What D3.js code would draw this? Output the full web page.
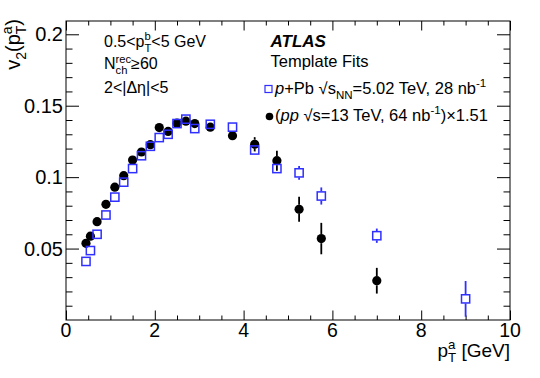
<!DOCTYPE html>
<html>
<meta charset="utf-8">
<script src="https://cdn.jsdelivr.net/npm/d3@7/dist/d3.min.js"></script>
<style>
body{ margin:0; background:white; }
svg text{ font-family: "Liberation Sans", Arial, Helvetica, sans-serif; white-space: pre; fill: black; }
.frame{ fill:none; stroke:black; stroke-width:1; }
.tick line{ stroke:black; }
</style>
<body>
<div id="chart"></div>
<script>
// bin centres in pT^a [GeV]
var ptA   = [0.45,0.55,0.7,0.9,1.1,1.3,1.5,1.7,1.9,2.1,2.3,2.5,2.7,2.9,3.25,3.75,4.25,4.75,5.25,5.75,7,9];
// p+Pb 5.02 TeV
var v2pPb  = [0.041,0.0486,0.060,0.0735,0.086,0.0965,0.106,0.115,0.1216,0.1277,0.130,0.1375,0.1406,0.134,0.137,0.135,0.119,0.106,0.103,0.0868,0.059,0.0148];
var errpPb = [0.001,0.001,0.001,0.001,0.001,0.001,0.001,0.001,0.001,0.001,0.001,0.001,0.001,0.001,0.001,0.0015,0.002,0.003,0.0048,0.006,0.005,0.0125];
// pp 13 TeV (scaled x1.51), no point in last bin
var v2pp   = [0.0537,0.0587,0.0688,0.081,0.093,0.101,0.112,0.1176,0.1227,0.1347,0.132,0.1378,0.1392,0.1375,0.135,0.129,0.123,0.1115,0.0775,0.057,0.0275];
var errpp  = [0.001,0.001,0.001,0.001,0.001,0.001,0.001,0.001,0.001,0.001,0.001,0.001,0.001,0.001,0.0015,0.002,0.005,0.007,0.0087,0.011,0.009];

var xTicks = [0,2,4,6,8,10];
var yTicks = [0.05,0.1,0.15,0.2];

var W = 540, H = 378;
var padL = 66, padR = 510, padT = 21, padB = 320;

var svg = d3.select("#chart").append("svg").attr("width",W).attr("height",H);

var x = d3.scaleLinear().domain([0,10]).range([padL,padR]);
var y = d3.scaleLinear().domain([0,0.2093]).range([padB,padT]);

var blue = "#2f2fff";

// ticks (inward, ROOT style)
var xMinor = d3.range(0,10.01,0.5).filter(function(d){ return d%2!==0; });
var yMinor = d3.range(0.01,0.2093,0.01).filter(function(d){ return Math.round(d*100)%5!==0; });

function axisG(axis, tx, ty){
  var g = svg.append("g").attr("transform","translate("+tx+","+ty+")").call(axis);
  g.select(".domain").remove();
  g.selectAll("text").remove();
  return g;
}
axisG(d3.axisBottom(x).tickValues(xTicks).tickSize(-9.5), 0, padB);
axisG(d3.axisBottom(x).tickValues(xMinor).tickSize(-4.5), 0, padB);
axisG(d3.axisTop(x).tickValues(xTicks).tickSize(-9.5), 0, padT);
axisG(d3.axisTop(x).tickValues(xMinor).tickSize(-4.5), 0, padT);
axisG(d3.axisLeft(y).tickValues(yTicks).tickSize(-13), padL, 0);
axisG(d3.axisLeft(y).tickValues(yMinor).tickSize(-6.5), padL, 0);
axisG(d3.axisRight(y).tickValues(yTicks).tickSize(-13), padR, 0);
axisG(d3.axisRight(y).tickValues(yMinor).tickSize(-6.5), padR, 0);

svg.append("rect").attr("class","frame")
  .attr("x",padL).attr("y",padT).attr("width",padR-padL).attr("height",padB-padT);

// tick labels
svg.selectAll(".xl").data(xTicks).enter().append("text")
  .attr("x",function(d){ return x(d); }).attr("y",337)
  .attr("text-anchor","middle").style("font-size","19.5px")
  .text(function(d){ return d; });
svg.selectAll(".yl").data(yTicks).enter().append("text")
  .attr("x",63).attr("y",function(d){ return y(d)+7; })
  .attr("text-anchor","end").style("font-size","20px")
  .text(function(d){ return d; });

// small latex-like text builder
function tex(parent, px, py, parts, size, anchor){
  var g = parent.append("g");
  var cx = 0;
  parts.forEach(function(p){
    if (p.sub!==undefined || p.sup!==undefined){
      var w = 0;
      if (p.sub!==undefined){
        var t = g.append("text").attr("x",cx).attr("y",size*0.3).style("font-size",(size*0.7)+"px").text(p.sub);
        w = Math.max(w, t.node().getComputedTextLength());
      }
      if (p.sup!==undefined){
        var t2 = g.append("text").attr("x",cx).attr("y",-size*0.42).style("font-size",(size*0.7)+"px").text(p.sup);
        w = Math.max(w, t2.node().getComputedTextLength());
      }
      cx += w;
    } else {
      var t3 = g.append("text").attr("x",cx).attr("y",0).style("font-size",size+"px")
        .style("font-style",p.it?"italic":null).style("font-weight",p.b?"bold":null).text(p.t);
      cx += t3.node().getComputedTextLength();
    }
  });
  var dx = anchor==="end" ? -cx : (anchor==="middle" ? -cx/2 : 0);
  g.attr("transform","translate("+(px+dx)+","+py+")");
  return g;
}

// axis titles
tex(svg, 510, 356.5, [{t:"p"},{sub:"T",sup:"a"},{t:" [GeV]"}], 19, "end");
var yt = svg.append("g").attr("transform","translate(20,19) rotate(-90)");
tex(yt, 0, 0, [{t:"v"},{sub:"2"},{t:"(p"},{sub:"T",sup:"a"},{t:")"}], 20, "end");

// labels top-left
tex(svg, 104, 46.7, [{t:"0.5<p"},{sub:"T",sup:"b"},{t:"<5 GeV"}], 16);
tex(svg, 104, 69.3, [{t:"N"},{sub:"ch",sup:"rec"},{t:"\u226560"}], 16);
tex(svg, 104, 92.7, [{t:"2<|\u0394\u03b7|<5"}], 16);

// ATLAS label + legend
tex(svg, 270.5, 46.7, [{t:"ATLAS", it:true, b:true}], 17);
tex(svg, 270.5, 66.5, [{t:"Template Fits"}], 16.5);
svg.append("rect").attr("x",265).attr("y",85.5).attr("width",7).attr("height",7)
  .attr("fill","none").attr("stroke",blue).attr("stroke-width",1.2);
tex(svg, 275, 94, [{t:"p",it:true},{t:"+Pb \u221As"},{sub:"NN"},{t:"=5.02 TeV, 28 nb"},{sup:"-1"}], 16.5);
svg.append("circle").attr("cx",269.5).attr("cy",116.5).attr("r",3.8).attr("fill","black");
tex(svg, 275, 121, [{t:"("},{t:"pp",it:true},{t:" \u221As=13 TeV, 64 nb"},{sup:"-1"},{t:")\u00d71.51"}], 16.5);

// data
var half = 4.6;
var ppData = v2pp.map(function(v,i){ return {x:ptA[i], v:v, e:errpp[i]}; });
var pPbData = v2pPb.map(function(v,i){ return {x:ptA[i], v:v, e:errpPb[i]}; });

function errBars(data, col, h){
  var g = svg.append("g").attr("stroke",col).attr("stroke-width",1.8);
  data.forEach(function(d){
    var yc = y(d.v), yh = y(d.v+d.e), yl = y(d.v-d.e);
    if (yc-yh > h) g.append("line").attr("x1",x(d.x)).attr("x2",x(d.x)).attr("y1",yh).attr("y2",yc-h);
    if (yl-yc > h) g.append("line").attr("x1",x(d.x)).attr("x2",x(d.x)).attr("y1",yc+h).attr("y2",yl);
  });
}

errBars(ppData, "black", half);
svg.append("g").selectAll("circle").data(ppData).enter().append("circle")
  .attr("cx",function(d){ return x(d.x); }).attr("cy",function(d){ return y(d.v); })
  .attr("r",half).attr("fill","black");

errBars(pPbData, blue, half);
svg.append("g").selectAll("rect").data(pPbData).enter().append("rect")
  .attr("x",function(d){ return x(d.x)-half+0.5; }).attr("y",function(d){ return y(d.v)-half+0.5; })
  .attr("width",2*half-1).attr("height",2*half-1)
  .attr("fill","none").attr("stroke",blue).attr("stroke-width",1.5);
</script>
</body>
</html>
